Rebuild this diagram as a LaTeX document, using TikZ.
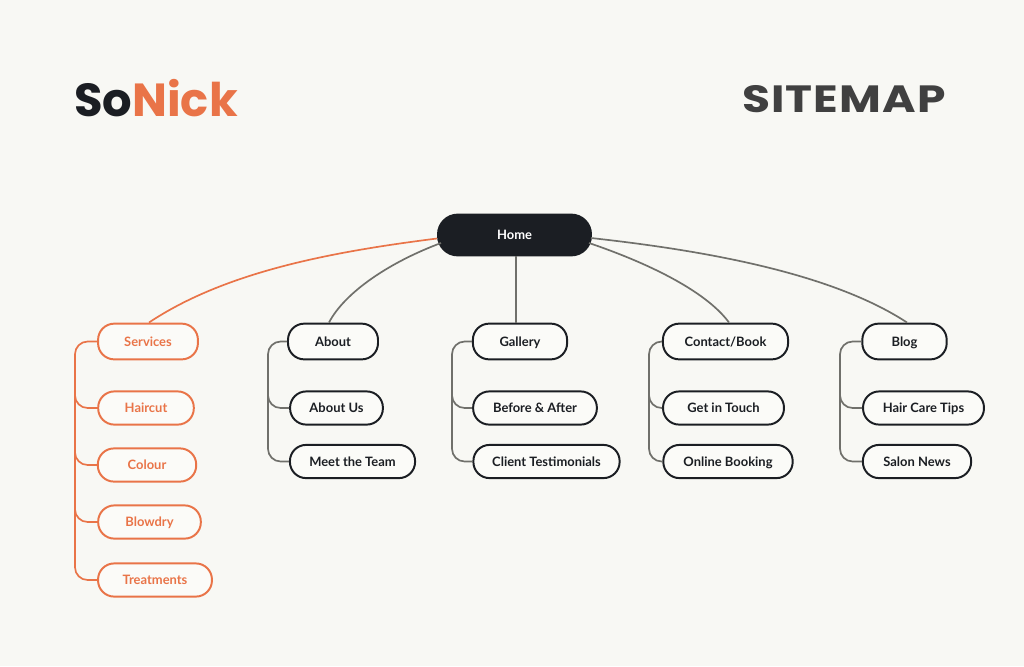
\documentclass[tikz,border=0pt]{standalone}
\usepackage{fontspec}
\setmainfont{Lato}
\newfontfamily\logofont{Poppins}
\newfontfamily\titlefont{Poppins}[FakeStretch=1.2,LetterSpace=3]
\definecolor{bg}{RGB}{248,248,244}
\definecolor{ink}{RGB}{27,30,35}
\definecolor{c1}{RGB}{233,116,72}
\definecolor{c2}{RGB}{112,112,107}
\definecolor{c3}{RGB}{64,64,64}
\tikzset{
  page box/.style={minimum height=23.6pt,text height=8.7pt,text depth=1.8pt,inner xsep=0pt,inner ysep=0pt,
    font=\fontsize{9.2}{11}\selectfont\bfseries,line width=1.4pt,rounded corners=11.5pt,draw},
  blackbox/.style={page box,draw=ink,text=ink,fill=white!40!bg},
  orangebox/.style={page box,draw=c1,text=c1,fill=white!40!bg},
  homebox/.style={page box,fill=ink,draw=ink,text=white,rounded corners=14pt},
  link/.style={c2,line width=1.2pt},
  orangelink/.style={c1,line width=1.2pt},
  branch/.style={link,rounded corners=9pt},
  orangebranch/.style={orangelink,rounded corners=9pt}
}
\begin{document}
\begin{tikzpicture}[x=.025cm,y=-.025cm]
      \fill[bg] (0,0) rectangle (1024,666);
      \useasboundingbox (0,0) rectangle (1024,666);

      % logo and title
      \node[font=\logofont\fontsize{33}{36}\selectfont\bfseries,text=ink,inner sep=0pt] (logo) at (156,98) {So\textcolor{c1}{Nick}};
      \node[font=\titlefont\fontsize{27}{30}\selectfont\bfseries,text=c3,inner sep=0pt] (title) at (844,99) {SITEMAP};

      % top
      \node[homebox,minimum width=108.8pt,minimum height=29pt] (home) at (514.5,235) {Home};

      % main pages
      \node[orangebox,minimum width=71pt,minimum height=25.4pt] (services) at (148,341.5) {Services};
      \node[blackbox,minimum width=64pt,minimum height=25.4pt] (about) at (333,341.5) {About};
      \node[blackbox,minimum width=67pt,minimum height=25.4pt] (gallery) at (520,341.5) {Gallery};
      \node[blackbox,minimum width=89pt,minimum height=25.4pt] (contact) at (725.5,341.5) {Contact/Book};
      \node[blackbox,minimum width=60pt,minimum height=25.4pt] (blog) at (904.5,341.5) {Blog};

      % sub pages
      \node[orangebox,minimum width=68pt] (haircut) at (146,408) {Haircut};
      \node[orangebox,minimum width=70pt] (colour) at (147,465) {Colour};
      \node[orangebox,minimum width=73pt] (blowdry) at (149.5,522) {Blowdry};
      \node[orangebox,minimum width=81pt] (treatments) at (155,580) {Treatments};
      \node[blackbox,minimum width=66pt] (aboutus) at (336.5,408) {About Us};
      \node[blackbox,minimum width=89pt] (team) at (352.5,461.5) {Meet the Team};
      \node[blackbox,minimum width=88pt] (before) at (535,408) {Before \& After};
      \node[blackbox,minimum width=104pt] (client) at (546.5,461.5) {Client Testimonials};
      \node[blackbox,minimum width=86pt] (touch) at (723.5,408) {Get in Touch};
      \node[blackbox,minimum width=92pt] (booking) at (728,461.5) {Online Booking};
      \node[blackbox,minimum width=86pt] (tips) at (923.5,408) {Hair Care Tips};
      \node[blackbox,minimum width=77pt] (news) at (917,461.5) {Salon News};

      % curves from the top
      \draw[orangelink] (home.west |- 0,238.5) .. controls (330,252) and (225,272) .. (149,322.5);
      \draw[link] (441,243) .. controls (390,262) and (345,292) .. (329,322.5);
      \draw[link] (home.south -| 516,0) -- (gallery.north -| 516,0);
      \draw[link] (589,243) .. controls (645,262) and (705,290) .. (729,322.5);
      \draw[link] (591,238) .. controls (700,250) and (830,272) .. (907,322.5);

      % free ends on the trunks
      \coordinate (s1) at (75,400);
      \coordinate (s2) at (75,456);
      \coordinate (s3) at (75,513);
      \coordinate (a1) at (268,402);
      \coordinate (g1) at (452,402);
      \coordinate (c1) at (649,402);
      \coordinate (b1) at (840,402);

      % trunks
      \draw[orangebranch] (services.west) -| (s1) |- (treatments.west);
      \draw[branch] (about.west) -| (a1) |- (team.west);
      \draw[branch] (gallery.west) -| (g1) |- (client.west);
      \draw[branch] (contact.west) -| (c1) |- (booking.west);
      \draw[branch] (blog.west) -| (b1) |- (news.west);

      % side branches
      \draw[orangebranch] (s1) |- (haircut.west);
      \draw[orangebranch] (s2) |- (colour.west);
      \draw[orangebranch] (s3) |- (blowdry.west);
      \draw[branch] (a1) |- (aboutus.west);
      \draw[branch] (g1) |- (before.west);
      \draw[branch] (c1) |- (touch.west);
      \draw[branch] (b1) |- (tips.west);
\end{tikzpicture}
\end{document}
